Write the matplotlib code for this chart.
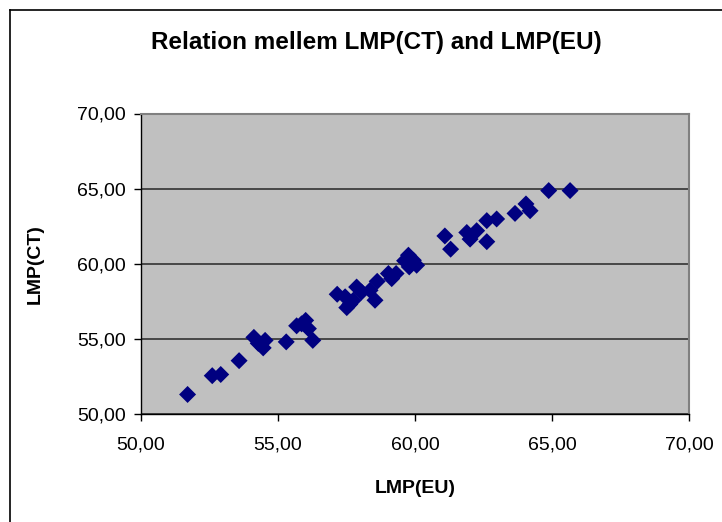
import matplotlib.pyplot as plt
from matplotlib.ticker import FuncFormatter, MultipleLocator
from matplotlib.lines import Line2D

plt.rcParams['font.family'] = ['Liberation Sans', 'DejaVu Sans']

# LMP(EU) vs LMP(CT)
lmp_eu = [51.70, 52.60, 52.91, 53.58, 54.12, 54.28, 54.53, 54.46, 55.30, 55.68,
          55.86, 56.01, 56.11, 56.27, 57.16, 57.51, 57.75, 57.87, 58.05, 58.36,
          58.54, 58.62, 59.03, 59.31, 59.15, 59.76, 59.94, 60.06, 59.79, 59.62,
          61.09, 61.30, 61.89, 62.01, 62.25, 62.62, 62.98, 62.62, 63.65, 64.05,
          64.20, 64.88, 65.66, 57.45, 57.62]
lmp_ct = [51.30, 52.55, 52.63, 53.55, 55.10, 54.70, 54.90, 54.40, 54.80, 55.87,
          56.00, 56.23, 55.68, 54.90, 57.97, 57.08, 57.57, 58.45, 58.12, 58.23,
          57.57, 58.83, 59.35, 59.35, 59.01, 60.57, 60.23, 59.90, 59.79, 60.20,
          61.85, 60.97, 62.08, 61.64, 62.20, 62.87, 62.98, 61.47, 63.35, 63.98,
          63.53, 64.87, 64.87, 57.80, 57.30]

title = "Relation mellem LMP(CT) and LMP(EU)"
x_label = "LMP(EU)"
y_label = "LMP(CT)"

fig = plt.figure(figsize=(7.22, 5.22), dpi=100)

# chart frame (left and top edges visible in the screenshot)
fig.add_artist(Line2D([10/722, 10/722], [0, 1 - 10/522], color='black', lw=1.2))
fig.add_artist(Line2D([10/722, 1], [1 - 10/522, 1 - 10/522], color='black', lw=1.2))

ax = fig.add_axes([141/722, 1 - 414/522, 548/722, 300.5/522])
ax.set_facecolor('#C0C0C0')
ax.scatter(lmp_eu, lmp_ct, marker='D', s=75, color='#000080', edgecolors='none', zorder=3)

ax.set_xlim(50, 70)
ax.set_ylim(50, 70)
ax.xaxis.set_major_locator(MultipleLocator(5))
ax.yaxis.set_major_locator(MultipleLocator(5))
fmt = FuncFormatter(lambda v, p: f"{v:.2f}".replace('.', ','))
ax.xaxis.set_major_formatter(fmt)
ax.yaxis.set_major_formatter(fmt)

ax.grid(axis='y', color='#333333', lw=1.2)
ax.set_axisbelow(True)
for side in ['top', 'right']:
    ax.spines[side].set_color('#808080')
    ax.spines[side].set_linewidth(1.5)
for side in ['left', 'bottom']:
    ax.spines[side].set_color('black')
    ax.spines[side].set_linewidth(1.0)

ax.tick_params(direction='out', length=5, width=1, labelsize=14)
ax.tick_params(axis='x', pad=11)
ax.tick_params(axis='y', pad=6)

ax.set_xlabel(x_label, fontsize=14, fontweight='bold', labelpad=19)
ax.set_ylabel(y_label, fontsize=14, fontweight='bold', labelpad=24)
fig.text(376/722, 1 - 42/522, title, fontsize=17.5, fontweight='bold',
         ha='center', va='center')

fig.savefig('out.png', dpi=100)
